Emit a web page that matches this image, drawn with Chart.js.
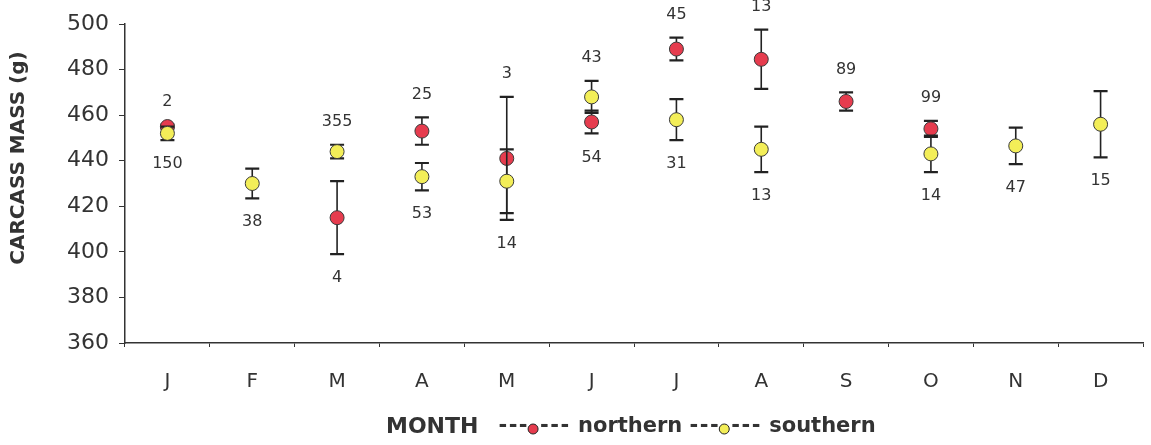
<!DOCTYPE html>
<html>
<head>
<meta charset="utf-8">
<script src="https://cdn.jsdelivr.net/npm/chart.js@4"></script>
<style>
  html, body { margin: 0; padding: 0; background: #fff; }
  #wrap { width: 1151px; height: 445px; }
</style>
</head>
<body>
<div id="wrap"><canvas id="c"></canvas></div>
<script>
const months = ['J','F','M','A','M','J','J','A','S','O','N','D'];
const northMean = [455, null, 415, 453, 441, 457, 489, 484.5, 466, 454, null, null];
const northErr  = [0.8, null, 16, 6, 27, 5, 5, 13, 4, 3.5, null, null];
const northN    = [2, null, 4, 25, 3, 54, 45, 13, 89, 99, null, null];
const southMean = [452, 430, 444, 433, 431, 468, 458, 445, null, 443, 446.5, 456];
const southErr  = [3, 6.5, 3, 6, 14, 7, 9, 10, null, 8, 8, 14.5];
const southN    = [150, 38, 355, 53, 14, 43, 31, 13, null, 14, 47, 15];
const yTicks = [360, 380, 400, 420, 440, 460, 480, 500];

const RED = '#e63c4e', YEL = '#f3ee58', INK = '#333333';
const FONT = '"DejaVu Sans", sans-serif';

// error bars, drawn just before each dataset's points
const errBars = {
  id: 'errBars',
  beforeDatasetDraw(chart, args) {
    const { ctx, scales: { x, y } } = chart;
    const err = args.index === 0 ? northErr : southErr;
    const mean = args.index === 0 ? northMean : southMean;
    ctx.save();
    ctx.strokeStyle = '#222';
    mean.forEach((m, i) => {
      if (m == null) return;
      const px = x.getPixelForValue(i);
      const top = y.getPixelForValue(m + err[i]);
      const bot = y.getPixelForValue(m - err[i]);
      ctx.lineWidth = 1.6;
      ctx.beginPath(); ctx.moveTo(px, top); ctx.lineTo(px, bot); ctx.stroke();
      ctx.lineWidth = 2.2;
      ctx.beginPath();
      ctx.moveTo(px - 7, top); ctx.lineTo(px + 7, top);
      ctx.moveTo(px - 7, bot); ctx.lineTo(px + 7, bot);
      ctx.stroke();
    });
    ctx.restore();
  }
};

// sample sizes, month axis title and legend, y title
const extras = {
  id: 'extras',
  afterDraw(chart) {
    const { ctx, scales: { x, y } } = chart;
    ctx.save();
    ctx.fillStyle = INK;
    ctx.font = '16px ' + FONT;
    ctx.textAlign = 'center';
    ctx.textBaseline = 'middle';
    months.forEach((_, i) => {
      const px = x.getPixelForValue(i);
      const hasN = northMean[i] != null, hasS = southMean[i] != null;
      const hi = Math.max(hasN ? northMean[i] + northErr[i] : -Infinity, hasS ? southMean[i] + southErr[i] : -Infinity);
      const lo = Math.min(hasN ? northMean[i] - northErr[i] : Infinity, hasS ? southMean[i] - southErr[i] : Infinity);
      let topN = null, botN = null;
      if (hasN && hasS) {
        if (northMean[i] >= southMean[i]) { topN = northN[i]; botN = southN[i]; }
        else { topN = southN[i]; botN = northN[i]; }
      } else if (hasN) topN = northN[i];
      else botN = southN[i];
      if (topN != null) ctx.fillText(String(topN), px, y.getPixelForValue(hi) - 23);
      if (botN != null) ctx.fillText(String(botN), px, y.getPixelForValue(lo) + 24);
    });

    // y title
    ctx.save();
    ctx.translate(19, 158);
    ctx.rotate(-Math.PI / 2);
    ctx.font = 'bold 20px ' + FONT;
    ctx.fillText('CARCASS MASS (g)', 0, 0);
    ctx.restore();

    // bottom row: MONTH + legend
    const ly = 427;
    ctx.textAlign = 'left';
    let cx = 386;
    const put = (t, sp) => {
      ctx.letterSpacing = sp || '0px';
      ctx.fillText(t, cx, ly);
      cx += ctx.measureText(t).width;
      ctx.letterSpacing = '0px';
    };
    const dot = (col) => {
      cx += 4;
      ctx.beginPath(); ctx.arc(cx, ly + 2, 5, 0, Math.PI * 2);
      ctx.fillStyle = col; ctx.fill();
      ctx.lineWidth = 1; ctx.strokeStyle = '#222'; ctx.stroke();
      ctx.fillStyle = INK;
      cx += 7;
    };
    ctx.font = 'bold 22px ' + FONT;
    put('MONTH'); cx += 20;
    ctx.font = 'bold 21px ' + FONT;
    put('---', '1.5px'); dot(RED); put('---', '1.5px'); put(' northern ');
    put('---', '1.5px'); dot(YEL); put('---', '1.5px'); put(' southern');
    ctx.restore();
  }
};

const point = (col) => ({
  showLine: false,
  pointRadius: 7,
  pointHoverRadius: 7,
  pointBackgroundColor: col,
  pointBorderColor: '#3a3a3a',
  pointBorderWidth: 1
});

new Chart(document.getElementById('c'), {
  type: 'line',
  data: {
    labels: months,
    datasets: [
      { label: 'northern', data: northMean, order: 1, ...point(RED) },
      { label: 'southern', data: southMean, order: 0, ...point(YEL) }
    ]
  },
  options: {
    responsive: true,
    maintainAspectRatio: false,
    animation: false,
    layout: { padding: { top: 24, right: 6, left: 0, bottom: 0 } },
    plugins: { legend: { display: false }, tooltip: { enabled: false } },
    scales: {
      x: {
        offset: true,
        grid: { display: true, offset: true, drawOnChartArea: false, drawTicks: true, tickLength: 4, color: INK },
        border: { display: true, color: INK, width: 1.5 },
        ticks: { color: INK, font: { family: FONT, size: 20 }, padding: 23, maxRotation: 0 },
        afterFit(s) { s.height = 102; }
      },
      y: {
        min: 360, max: 500,
        afterBuildTicks(s) { s.ticks = yTicks.map(v => ({ value: v })); },
        grid: { display: true, drawOnChartArea: false, drawTicks: true, tickLength: 6, color: INK },
        border: { display: true, color: INK, width: 1.5 },
        ticks: { color: INK, font: { family: FONT, size: 22 }, padding: 10 },
        afterFit(s) { s.width = 125; }
      }
    }
  },
  plugins: [errBars, extras]
});
</script>
</body>
</html>
